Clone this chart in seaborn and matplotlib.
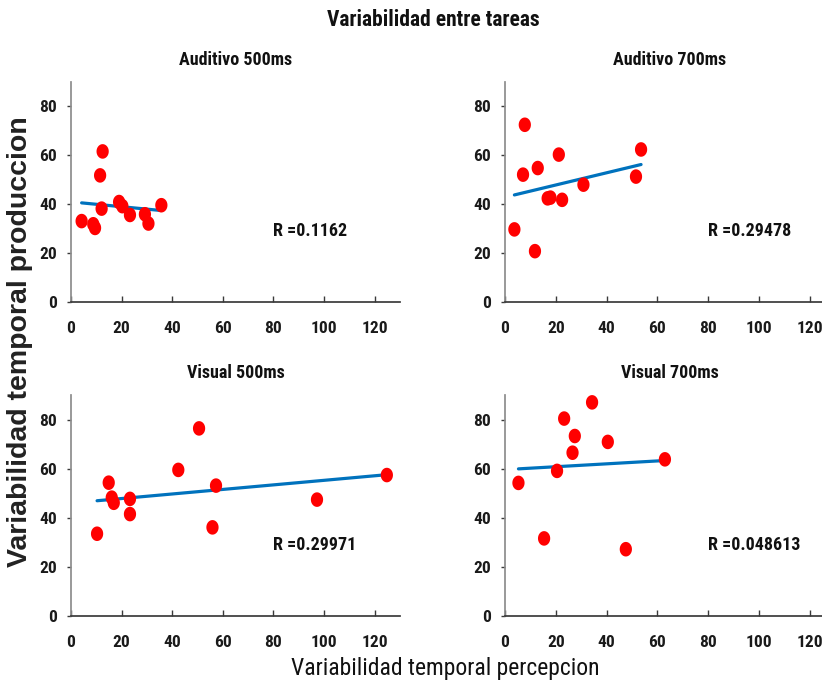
import numpy as np
import pandas as pd
import matplotlib
matplotlib.use("Agg")
import matplotlib.pyplot as plt
from matplotlib.path import Path
import seaborn as sns

sns.set_theme(style="white")
narrow = ['Roboto Condensed', 'Liberation Sans', 'DejaVu Sans']
plt.rcParams['font.family'] = narrow

# ---- data ----
titles = ["Auditivo 500ms", "Auditivo 700ms", "Visual 500ms", "Visual 700ms"]
r_labels = ["R =0.1162", "R =0.29478", "R =0.29971", "R =0.048613"]

aud500_x = [4.2, 8.8, 9.5, 11.5, 12.5, 12.1, 19.0, 20.3, 23.3, 29.2, 30.6, 35.7]
aud500_y = [33.1, 31.8, 30.3, 51.8, 61.6, 38.2, 40.9, 39.2, 35.6, 35.9, 32.1, 39.6]

aud700_x = [3.7, 7.8, 7.1, 11.8, 12.9, 16.8, 17.9, 21.2, 22.5, 30.9, 51.6, 53.6]
aud700_y = [29.7, 72.5, 52.1, 20.8, 54.8, 42.4, 42.7, 60.3, 41.8, 48.0, 51.3, 62.4]

vis500_x = [10.3, 14.9, 16.1, 16.9, 23.3, 23.3, 42.4, 50.6, 55.9, 57.3, 97.2, 124.8]
vis500_y = [33.5, 54.3, 48.2, 46.1, 47.7, 41.5, 59.5, 76.4, 36.1, 53.1, 47.4, 57.4]

vis700_x = [5.3, 15.4, 20.5, 23.3, 26.6, 27.5, 34.3, 40.5, 47.6, 63.0]
vis700_y = [54.2, 31.6, 59.1, 80.4, 66.5, 73.3, 87.0, 70.9, 27.2, 63.8]

xs = [aud500_x, aud700_x, vis500_x, vis700_x]
ys = [aud500_y, aud700_y, vis500_y, vis700_y]

x_ticks = [0, 20, 40, 60, 80, 100, 120]
y_ticks = [0, 20, 40, 60, 80]

# ---- figure ----
W, H = 822, 688
fig = plt.figure(figsize=(W / 100, H / 100), dpi=100)

rects = [(71, 82, 329, 220), (505, 82, 330, 220),
         (71, 395, 329, 221), (505, 395, 330, 221)]

t = np.linspace(0, 2 * np.pi, 60)
ell = Path(np.column_stack([0.42 * np.cos(t), 0.5 * np.sin(t)]), closed=True)

line_col = "#0072BD"

for i in range(4):
    l, tp, w, h = rects[i]
    ax = fig.add_axes([l / W, 1 - (tp + h) / H, w / W, h / H])
    df = pd.DataFrame({"x": xs[i], "y": ys[i]})
    sns.regplot(data=df, x="x", y="y", ax=ax, scatter=False, ci=None,
                truncate=True, line_kws=dict(color=line_col, lw=2.3, zorder=2))
    sns.scatterplot(data=df, x="x", y="y", ax=ax, color="#FF0000",
                    marker=ell, s=110, edgecolor="none", zorder=3)
    ax.set_xlim(0, 130)
    ax.set_ylim(0, 90)
    ax.set_xticks(x_ticks)
    ax.set_yticks(y_ticks)
    ax.set_xlabel("")
    ax.set_ylabel("")
    for s in ["top", "right"]:
        ax.spines[s].set_visible(False)
    ax.spines["left"].set_color("#8c8c8c")
    ax.spines["bottom"].set_color("#3a3a3a")
    ax.tick_params(axis="x", direction="in", length=4, width=1, color="#3a3a3a",
                   pad=14, labelsize=12.5, labelcolor="#1a1a1a")
    ax.tick_params(axis="y", direction="out", length=3, width=1, color="#3a3a3a",
                   pad=7, labelsize=12.5, labelcolor="#1a1a1a")
    ax.tick_params(left=True, bottom=True)
    for lab in ax.get_xticklabels() + ax.get_yticklabels():
        lab.set_fontweight("bold")
    ax.set_title(titles[i], fontsize=13, fontweight="bold", pad=12, color="#111111")
    ax.text(80, 29, r_labels[i], fontsize=13, fontweight="bold",
            va="center", ha="left", color="#111111")

fig.text(433 / W, 1 - 20 / H, "Variabilidad entre tareas", ha="center", va="center",
         fontsize=15.5, fontweight="bold", color="#111111")
fig.text(445 / W, 1 - 668 / H, "Variabilidad temporal percepcion", ha="center",
         va="center", fontsize=17, color="#111111")
fig.text(20 / W, 1 - 342 / H, "Variabilidad temporal produccion", ha="center",
         va="center", rotation=90, fontsize=20.5, fontweight="bold",
         family=['Liberation Sans', 'DejaVu Sans'], color="#222222")

fig.savefig("out.png", dpi=100)
